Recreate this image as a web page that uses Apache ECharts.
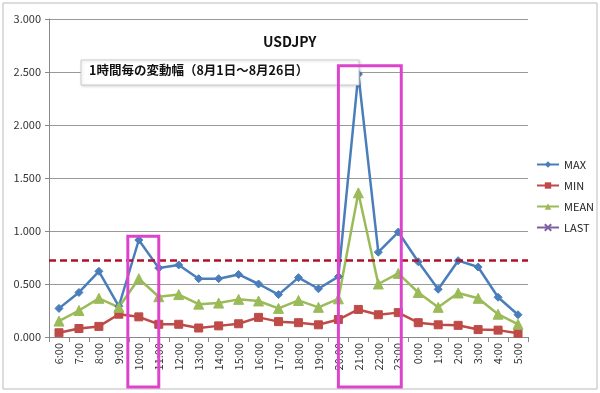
<!DOCTYPE html>
<html><head><meta charset="utf-8">
<script src="https://cdn.jsdelivr.net/npm/echarts@6/dist/echarts.min.js"></script>
<style>html,body{margin:0;padding:0;background:#fff}#c{width:600px;height:393px}</style>
</head><body><div id="c"></div>
<script>
const hours = ['6:00','7:00','8:00','9:00','10:00','11:00','12:00','13:00','14:00','15:00','16:00','17:00','18:00','19:00','20:00','21:00','22:00','23:00','0:00','1:00','2:00','3:00','4:00','5:00'];
const maxVals  = [0.27,0.42,0.62,0.29,0.915,0.65,0.68,0.55,0.55,0.59,0.50,0.40,0.56,0.455,0.57,2.48,0.80,0.99,0.71,0.45,0.72,0.66,0.375,0.21];
const minVals  = [0.04,0.08,0.10,0.215,0.19,0.12,0.12,0.085,0.105,0.125,0.185,0.145,0.135,0.115,0.165,0.26,0.21,0.23,0.135,0.115,0.11,0.07,0.065,0.035];
const meanVals = [0.15,0.25,0.365,0.28,0.55,0.38,0.40,0.31,0.32,0.355,0.34,0.27,0.345,0.28,0.36,1.36,0.50,0.60,0.42,0.28,0.415,0.365,0.215,0.12];
const lastVals = [];
const threshold = 0.72;
const yTicks = [0, 0.5, 1.0, 1.5, 2.0, 2.5, 3.0];
const titleText = 'USDJPY';
const subText = '1時間毎の変動幅（8月1日～8月26日）';

const chart = echarts.init(document.getElementById('c'));
const FONT = '"Noto Sans CJK JP", "Noto Sans", sans-serif';
const series = (name, data, color, symbol, size) => ({
  name, type: 'line', data, symbol, symbolSize: size,
  lineStyle: { color, width: 2.5 }, itemStyle: { color, borderColor: color }
});
const s1 = series('MAX', maxVals, '#4A7EBB', 'diamond', 8);
s1.markLine = { silent: true, symbol: 'none', label: { show: false },
  lineStyle: { color: '#B0102A', type: [7, 4], width: 2.5 },
  data: [{ yAxis: threshold }] };
const s4 = series('LAST', lastVals, '#7E5FA0', 'path://M0,0L10,10M10,0L0,10', 9);
s4.itemStyle.borderWidth = 1.5;
chart.setOption({
  animation: false,
  textStyle: { fontFamily: FONT },
  grid: { left: 49, right: 72, top: 19, bottom: 56 },
  legend: {
    orient: 'vertical', left: 531, top: 154, itemGap: 10, itemWidth: 22, itemHeight: 8,
    textStyle: { fontSize: 11, color: '#222', fontFamily: FONT },
    data: ['MAX', 'MIN', 'MEAN', 'LAST']
  },
  xAxis: {
    type: 'category', data: hours, boundaryGap: true,
    axisLine: { lineStyle: { color: '#888', width: 1 } },
    axisTick: { show: true, length: 5, lineStyle: { color: '#888' } },
    axisLabel: { rotate: 90, interval: 0, fontSize: 11, color: '#333', margin: 6 }
  },
  yAxis: {
    type: 'value', min: yTicks[0], max: yTicks[yTicks.length - 1], interval: 0.5,
    axisLine: { show: true, lineStyle: { color: '#888', width: 1 } },
    axisTick: { show: true, length: 4, lineStyle: { color: '#888' } },
    axisLabel: { fontSize: 11, color: '#333', margin: 8, formatter: v => v.toFixed(3) },
    splitLine: { lineStyle: { color: '#999', width: 1 } }
  },
  series: [
    s1,
    series('MIN', minVals, '#BE4B48', 'rect', 8),
    series('MEAN', meanVals, '#9BBB59', 'triangle', 10),
    s4
  ]
});

const px = (i, v) => chart.convertToPixel({ xAxisIndex: 0, yAxisIndex: 0 }, [i, v]);
const catW = px(1, 0)[0] - px(0, 0)[0];
const bottomY = px(0, 0)[1] + 50;
const box = (i0, off0, i1, off1, topV) => {
  const a = px(i0, topV), b = px(i1, topV);
  const x0 = a[0] + off0 * catW, x1 = b[0] + off1 * catW;
  return { type: 'rect', shape: { x: x0, y: a[1], width: x1 - x0, height: bottomY - a[1] },
    style: { fill: 'none', stroke: '#DD44CC', lineWidth: 3 }, z: 100 };
};
chart.setOption({
  graphic: [
    { type: 'rect', shape: { x: 3, y: 3, width: 594, height: 386 }, style: { fill: 'none', stroke: '#bbb', lineWidth: 1 }, z: 0 },
    { type: 'text', left: 263, top: 35, style: { text: titleText, font: 'bold 14px ' + FONT, fill: '#111' }, z: 100 },
    { type: 'rect', shape: { x: 81, y: 60, width: 278, height: 25 }, style: { fill: '#fff', stroke: '#ccc', lineWidth: 1, shadowBlur: 3, shadowColor: 'rgba(0,0,0,0.15)', shadowOffsetX: 1, shadowOffsetY: 1 }, z: 90 },
    { type: 'text', left: 89, top: 64, style: { text: subText, font: 'bold 12.5px ' + FONT, fill: '#111' }, z: 100 },
    box(4, -0.55, 5, 0, 0.95),
    box(14, 0, 17, 0.15, 2.56)
  ]
});
</script></body></html>
